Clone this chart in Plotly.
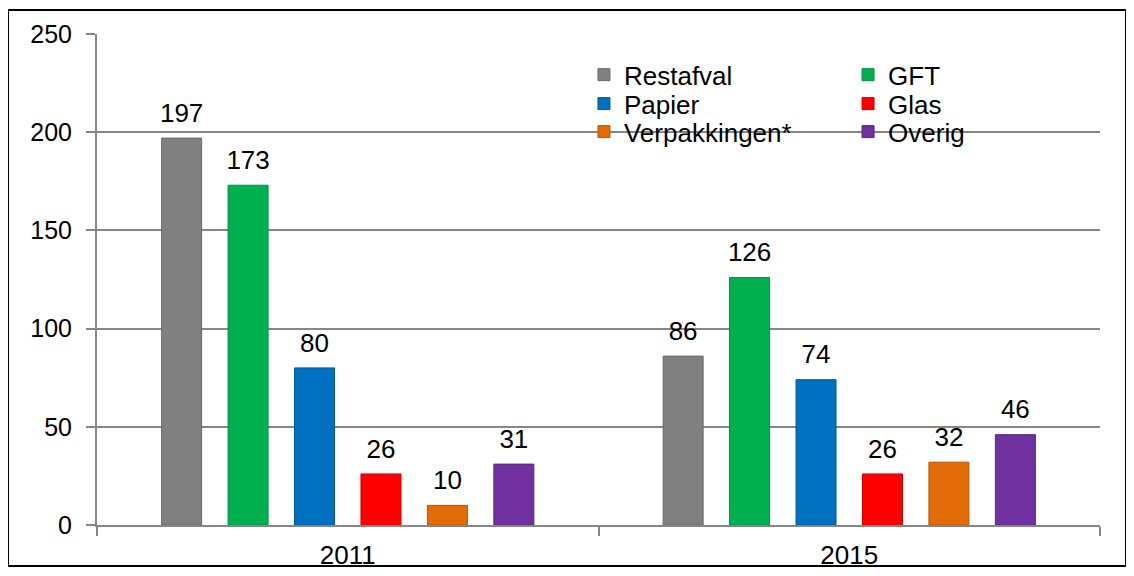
import plotly.graph_objects as go

years = ["2011", "2015"]
series = ["Restafval", "GFT", "Papier", "Glas", "Verpakkingen*", "Overig"]
values = {
    "Restafval": [197, 86],
    "GFT": [173, 126],
    "Papier": [80, 74],
    "Glas": [26, 26],
    "Verpakkingen*": [10, 32],
    "Overig": [31, 46],
}
colors = {
    "Restafval": "#808080",
    "GFT": "#00b050",
    "Papier": "#0070c0",
    "Glas": "#ff0000",
    "Verpakkingen*": "#e36c09",
    "Overig": "#7030a0",
}
lines = {
    "Restafval": "#6a6a6a",
    "GFT": "#00913f",
    "Papier": "#005a9e",
    "Glas": "#cc0000",
    "Verpakkingen*": "#b85607",
    "Overig": "#5a2683",
}
# legend slot for each series: (legend id, column, row)
legend_slots = {
    "Restafval": ("legend", 0, 0),
    "GFT": ("legend2", 1, 0),
    "Papier": ("legend3", 0, 1),
    "Glas": ("legend4", 1, 1),
    "Verpakkingen*": ("legend5", 0, 2),
    "Overig": ("legend6", 1, 2),
}
legend_cols_x = [0.4855, 0.7488]
legend_rows_y = [0.917, 0.858, 0.801]

FONT = "Liberation Sans, Arial, sans-serif"

fig = go.Figure()
for s in series:
    fig.add_trace(go.Bar(
        x=years, y=values[s], name=s,
        marker=dict(color=colors[s], line=dict(color=lines[s], width=1)),
        legend=legend_slots[s][0],
        hoverinfo="x+y+name",
    ))
for s in series:
    fig.add_trace(go.Scatter(
        x=years, y=values[s], name=s, mode="markers+text",
        marker=dict(size=14, color="rgba(0,0,0,0)"),
        text=[str(v) for v in values[s]],
        textposition="top center",
        textfont=dict(size=26, color="black", family=FONT),
        cliponaxis=False, showlegend=False, hoverinfo="skip",
    ))

legend_layout = {}
for s in series:
    lid, col, row = legend_slots[s]
    legend_layout[lid] = dict(
        x=legend_cols_x[col], y=legend_rows_y[row],
        xanchor="left", yanchor="middle",
        bgcolor="rgba(0,0,0,0)", font=dict(size=26, family=FONT, color="black"),
        itemclick=False, itemdoubleclick=False, tracegroupgap=0,
    )

fig.update_layout(
    width=1134, height=576,
    margin=dict(l=89, r=42, t=26, b=59),
    paper_bgcolor="white", plot_bgcolor="white",
    font=dict(family=FONT, size=26, color="black"),
    barmode="group", bargap=0.205, bargroupgap=0.398,
    scattermode="group", scattergap=0.205,
    showlegend=True,
    xaxis=dict(type="category", showline=True, linecolor="#868686", linewidth=2,
               ticks="outside", tickson="boundaries", ticklen=9, tickwidth=2,
               tickcolor="#868686", showgrid=False, automargin=False,
               tickfont=dict(size=26), ticklabelstandoff=6),
    yaxis=dict(range=[0, 250], dtick=50, showline=True, linecolor="#868686",
               linewidth=2, ticks="outside", ticklen=9, tickwidth=2,
               tickcolor="#868686", showgrid=True, gridcolor="#868686",
               gridwidth=1.5, zeroline=False, tickfont=dict(size=25),
               ticklabelstandoff=9, automargin=False),
    shapes=[dict(type="rect", xref="paper", yref="paper",
                 x0=-0.0887, x1=1.0259, y0=-0.0835, y1=1.0489,
                 line=dict(color="black", width=2), fillcolor="rgba(0,0,0,0)",
                 layer="above")],
    **legend_layout,
)

fig.write_html("out.html")
